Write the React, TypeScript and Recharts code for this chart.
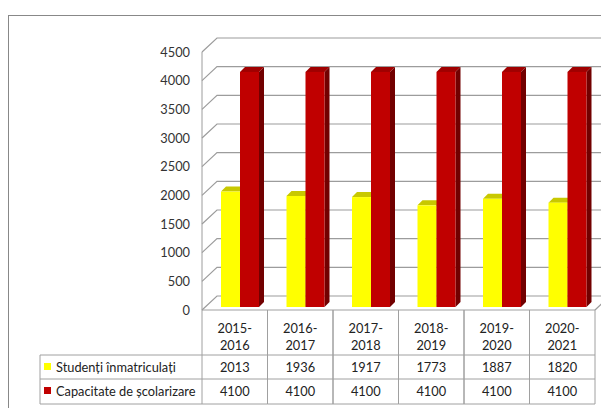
import React from 'react';
import { BarChart, Bar, XAxis, YAxis, CartesianGrid } from 'recharts';

const categories = ['2015-2016', '2016-2017', '2017-2018', '2018-2019', '2019-2020', '2020-2021'];
const enrolled = [2013, 1936, 1917, 1773, 1887, 1820];
const capacity = [4100, 4100, 4100, 4100, 4100, 4100];
const seriesNames = ['Studenți înmatriculați', 'Capacitate de școlarizare'];
const yTicks = [0, 500, 1000, 1500, 2000, 2500, 3000, 3500, 4000, 4500];

const data = categories.map((c, i) => ({ cat: c, enrolled: enrolled[i], capacity: capacity[i] }));

const W = 601;
const H = 408;
const PL = 202;
const PR = 595;
const PT = 52;
const PB = 310;
const DEPTH_X = 15;
const DEPTH_Y = 14;
const GRID = '#9c9c9c';
const TABLE = '#a0a0a0';
const FONT = 'Lato, "Open Sans", sans-serif';
const FS = 12.8;
const ROW1 = 355;
const ROW2 = 379;
const ROW3 = 404;
const LEG_L = 40;

const COLORS = {
  enrolled: { front: '#FFFF00', top: '#C8C800', side: '#9A9A00' },
  capacity: { front: '#C00000', top: '#A00000', side: '#720000' },
};

const make3D = (c: { front: string; top: string; side: string }) => (props: any) => {
  const { x, y, width, height } = props;
  if (width == null || height == null) return <g />;
  const bx = x + 5;
  const by = y - 3;
  const d = 5;
  return (
    <g>
      <polygon
        points={`${bx},${by} ${bx + d},${by - d} ${bx + width + d},${by - d} ${bx + width},${by}`}
        fill={c.top}
      />
      <polygon
        points={`${bx + width},${by} ${bx + width + d},${by - d} ${bx + width + d},${by - d + height} ${bx + width},${by + height}`}
        fill={c.side}
      />
      <rect x={bx} y={by} width={width} height={height} fill={c.front} />
    </g>
  );
};

const gridLine = (props: any) => {
  const { x1, y1, x2 } = props;
  const isFloor = Math.abs(y1 - PB) < 1;
  return (
    <g key={`g-${y1}`}>
      <path
        d={`M${x1},${y1} L${x1 + DEPTH_X},${y1 - DEPTH_Y} L${x2 + DEPTH_X},${y1 - DEPTH_Y}`}
        stroke={GRID}
        strokeWidth={1.2}
        fill="none"
      />
      {isFloor && (
        <path d={`M${x2},${y1} L${x2 + DEPTH_X},${y1 - DEPTH_Y}`} stroke={GRID} strokeWidth={1.2} fill="none" />
      )}
    </g>
  );
};

const YTick = (props: any) => {
  const { y, payload } = props;
  return (
    <text x={190} y={y + 4.6} textAnchor="end" fontFamily={FONT} fontSize={FS} fill="#333">
      {payload.value}
    </text>
  );
};

const XTick = (props: any) => {
  const { x, payload } = props;
  const i = categories.indexOf(payload.value);
  const hw = (PR - PL) / categories.length / 2;
  const parts = String(payload.value).split('-');
  const l = x - hw;
  const r = x + hw;
  return (
    <g>
      <line x1={l} y1={PB} x2={l} y2={ROW3} stroke={TABLE} />
      <line x1={r} y1={PB} x2={r} y2={ROW3} stroke={TABLE} />
      <line x1={l} y1={ROW1} x2={r} y2={ROW1} stroke={TABLE} />
      <line x1={l} y1={ROW2} x2={r} y2={ROW2} stroke={TABLE} />
      <line x1={l} y1={ROW3} x2={r} y2={ROW3} stroke={TABLE} />
      <text x={x} y={328 + 4.6} textAnchor="middle" fontFamily={FONT} fontSize={FS} fill="#222">
        {parts[0] + '-'}
      </text>
      <text x={x} y={345.5 + 4.6} textAnchor="middle" fontFamily={FONT} fontSize={FS} fill="#222">
        {parts[1]}
      </text>
      <text x={x} y={367.5 + 4.6} textAnchor="middle" fontFamily={FONT} fontSize={FS} fill="#222">
        {enrolled[i]}
      </text>
      <text x={x} y={391.5 + 4.6} textAnchor="middle" fontFamily={FONT} fontSize={FS} fill="#222">
        {capacity[i]}
      </text>
      {i === 0 && (
        <g>
          <line x1={LEG_L} y1={ROW1} x2={l} y2={ROW1} stroke={TABLE} />
          <line x1={LEG_L} y1={ROW2} x2={l} y2={ROW2} stroke={TABLE} />
          <line x1={LEG_L} y1={ROW3} x2={l} y2={ROW3} stroke={TABLE} />
          <line x1={LEG_L} y1={ROW1} x2={LEG_L} y2={ROW3} stroke={TABLE} />
          <rect x={44} y={363} width={7} height={7} fill={COLORS.enrolled.front} />
          <rect x={44} y={387} width={7} height={7} fill={COLORS.capacity.front} />
          <text x={56} y={367.5 + 4.6} fontFamily={FONT} fontSize={FS} fill="#222">
            {seriesNames[0]}
          </text>
          <text x={56} y={391.5 + 4.6} fontFamily={FONT} fontSize={FS} fill="#222">
            {seriesNames[1]}
          </text>
        </g>
      )}
    </g>
  );
};

export default function App() {
  return (
    <div
      style={{
        position: 'absolute',
        top: 0,
        left: 0,
        width: W,
        height: H,
        overflow: 'hidden',
        background: '#fff',
      }}
    >
      <div
        style={{
          position: 'absolute',
          top: 15,
          left: 8,
          width: 700,
          height: 500,
          borderTop: '1px solid #888',
          borderLeft: '1px solid #888',
        }}
      />
      <div style={{ position: 'absolute', top: 0, left: 0 }}>
        <BarChart
          width={W}
          height={H}
          data={data}
          margin={{ top: PT, right: W - PR, bottom: 0, left: 0 }}
          barGap={0}
          barSize={19}
        >
          <CartesianGrid vertical={false} horizontal={gridLine} />
          <XAxis
            dataKey="cat"
            height={H - PB}
            interval={0}
            tickLine={false}
            axisLine={{ stroke: TABLE }}
            tick={<XTick />}
          />
          <YAxis
            width={PL}
            domain={[0, 4500]}
            ticks={yTicks}
            tickLine={false}
            axisLine={{ stroke: GRID }}
            tick={<YTick />}
          />
          <Bar dataKey="enrolled" name={seriesNames[0]} isAnimationActive={false} shape={make3D(COLORS.enrolled)} />
          <Bar dataKey="capacity" name={seriesNames[1]} isAnimationActive={false} shape={make3D(COLORS.capacity)} />
        </BarChart>
      </div>
    </div>
  );
}
